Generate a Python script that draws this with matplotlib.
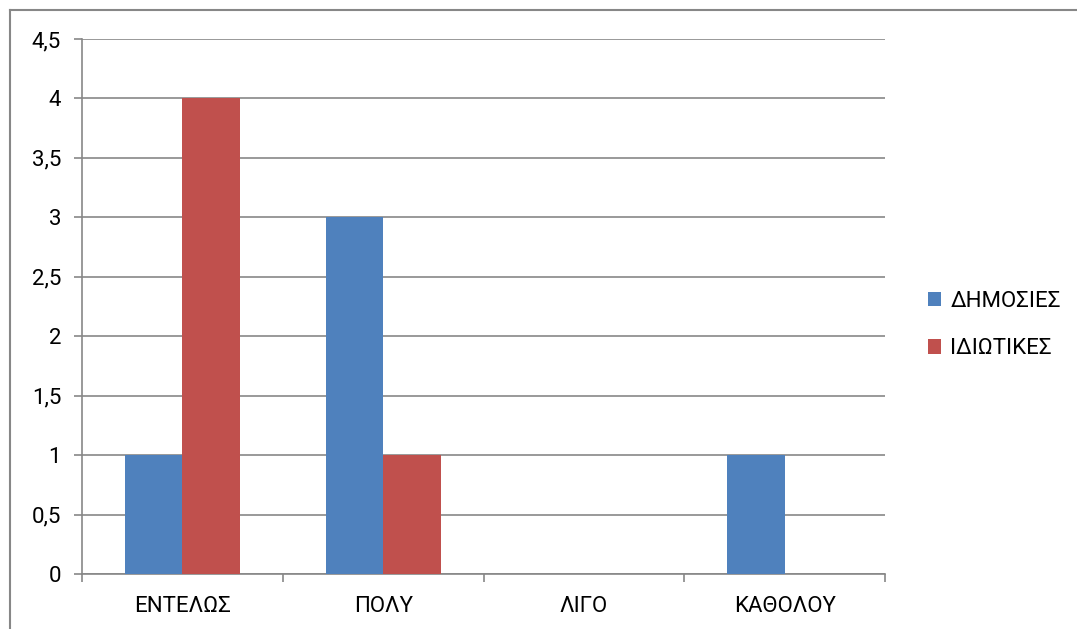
import numpy as np
import matplotlib
matplotlib.use('Agg')
import matplotlib.pyplot as plt
from matplotlib.lines import Line2D

# data
categories = ['ΕΝΤΕΛΩΣ', 'ΠΟΛΥ', 'ΛΙΓΟ', 'ΚΑΘΟΛΟΥ']
public = [1, 3, 0, 1]
private = [4, 1, 0, 0]
series_names = ['ΔΗΜΟΣΙΕΣ', 'ΙΔΙΩΤΙΚΕΣ']
yticks = [0, 0.5, 1, 1.5, 2, 2.5, 3, 3.5, 4, 4.5]
ytick_labels = ['0', '0,5', '1', '1,5', '2', '2,5', '3', '3,5', '4', '4,5']

plt.rcParams['font.family'] = ['Roboto', 'DejaVu Sans']
grey = '#878787'

fig = plt.figure(figsize=(10.77, 6.29), dpi=100)
ax = fig.add_axes([82 / 1077, 1 - 574 / 629, (885 - 82) / 1077, (574 - 39) / 629])

x = np.arange(len(categories))
w = 0.287
ax.bar(x - w / 2, public, w, color='#4F81BD', label=series_names[0], zorder=3)
ax.bar(x + w / 2, private, w, color='#C0504D', label=series_names[1], zorder=3)

ax.set_xlim(-0.5, len(categories) - 0.5)
ax.set_ylim(0, 4.5)
ax.set_yticks(yticks)
ax.set_yticklabels(ytick_labels, fontsize=16)
ax.yaxis.grid(True, color=grey, linewidth=1.2, zorder=0)
ax.set_axisbelow(True)

ax.set_xticks(x)
ax.set_xticklabels(categories, fontsize=16)
ax.set_xticks(np.arange(len(categories) + 1) - 0.5, minor=True)
ax.tick_params(axis='x', which='major', length=0, pad=16)
ax.tick_params(axis='x', which='minor', length=6, width=1.2, color=grey, direction='out')
ax.tick_params(axis='y', length=6, width=1.2, color=grey, direction='out', pad=9)

for s in ['top', 'right']:
    ax.spines[s].set_visible(False)
for s in ['left', 'bottom']:
    ax.spines[s].set_color(grey)
    ax.spines[s].set_linewidth(1.2)

ax.legend(loc='center left', bbox_to_anchor=(908 / 1077, 1 - 325 / 629),
          bbox_transform=fig.transFigure, frameon=False, fontsize=16,
          handlelength=0.6, handleheight=0.6, handletextpad=0.4, labelspacing=1.2)

# outer border (chart area frame)
fig.add_artist(Line2D([9.5 / 1077, 9.5 / 1077], [0, 1 - 9.5 / 629], transform=fig.transFigure,
                      color=grey, linewidth=1.5))
fig.add_artist(Line2D([9.5 / 1077, 1], [1 - 9.5 / 629, 1 - 9.5 / 629], transform=fig.transFigure,
                      color=grey, linewidth=1.5))

plt.savefig('out.png', dpi=100)
